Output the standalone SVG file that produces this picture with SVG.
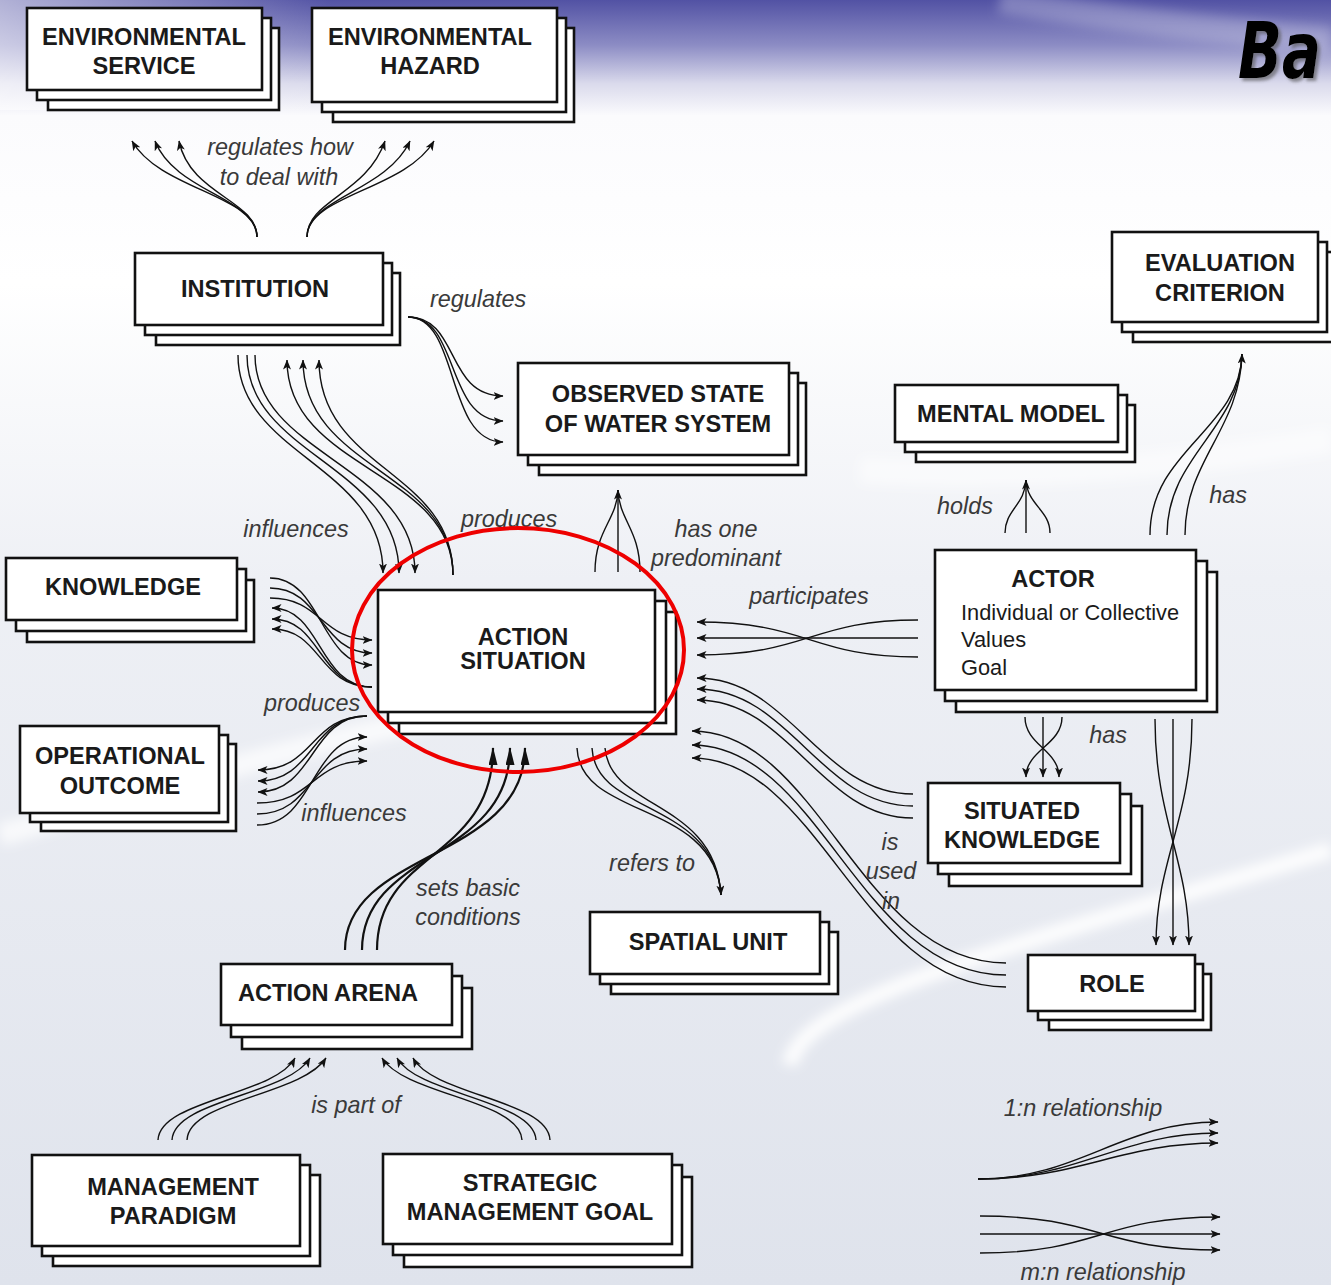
<svg xmlns="http://www.w3.org/2000/svg" width="1331" height="1285" viewBox="0 0 1331 1285">
  <defs>
    <linearGradient id="bg" x1="0" y1="0" x2="0" y2="1285" gradientUnits="userSpaceOnUse">
      <stop offset="0" stop-color="#5252a4"/>
      <stop offset="0.035" stop-color="#8c8cc4"/>
      <stop offset="0.065" stop-color="#dadaec"/>
      <stop offset="0.09" stop-color="#fbfbfd"/>
      <stop offset="0.22" stop-color="#ffffff"/>
      <stop offset="0.45" stop-color="#eef0f5"/>
      <stop offset="1" stop-color="#dfe3ec"/>
    </linearGradient>
    <linearGradient id="leftfade" x1="0" y1="0" x2="1" y2="0">
      <stop offset="0" stop-color="#ffffff" stop-opacity="0.55"/>
      <stop offset="0.25" stop-color="#ffffff" stop-opacity="0"/>
      <stop offset="1" stop-color="#ffffff" stop-opacity="0"/>
    </linearGradient>
    <filter id="soft" x="-10%" y="-10%" width="120%" height="120%">
      <feGaussianBlur stdDeviation="6"/>
    </filter>
    <filter id="shadow" x="-20%" y="-20%" width="140%" height="140%">
      <feDropShadow dx="3" dy="3" stdDeviation="1.5" flood-color="#555555" flood-opacity="0.6"/>
    </filter>
    <marker id="ah" viewBox="0 0 10 8" refX="9.5" refY="4" markerWidth="10" markerHeight="8" markerUnits="userSpaceOnUse" orient="auto">
      <path d="M0,0 L10,4 L0,8 L2.5,4 z" fill="#111"/>
    </marker>
    <marker id="ahb" viewBox="0 0 18 9" refX="17" refY="4.5" markerWidth="18" markerHeight="9" markerUnits="userSpaceOnUse" orient="auto">
      <path d="M0,0 L18,4.5 L0,9 z" fill="#111"/>
    </marker>
    <style>
      .box { fill: #ffffff; stroke: #111111; stroke-width: 2.6; }
      .t { font-family: "Liberation Sans", Arial, sans-serif; font-weight: bold; font-size: 23.6px; fill: #1a1a1a; text-anchor: middle; }
      .d { font-family: "Liberation Sans", Arial, sans-serif; font-size: 21.8px; fill: #1a1a1a; }
      .lbl { font-family: "Liberation Sans", Arial, sans-serif; font-style: italic; font-size: 23.4px; fill: #3a3a3a; text-anchor: middle; }
      .c { fill: none; stroke: #111111; stroke-width: 1.4; }
      .a { marker-end: url(#ah); }
      .cb { fill: none; stroke: #111111; stroke-width: 2.2; marker-end: url(#ahb); }
      .title { font-family: "DejaVu Sans", sans-serif; font-weight: bold; font-style: italic; font-size: 78px; }
    </style>
  </defs>

  <!-- background -->
  <rect x="0" y="0" width="1331" height="1285" fill="url(#bg)"/>
  <rect x="0" y="0" width="1331" height="110" fill="url(#leftfade)"/>
  <g filter="url(#soft)" fill="none" stroke="#ffffff">
    <path d="M1000,0 C1120,20 1220,30 1331,40" stroke-width="26" stroke-opacity="0.25"/>
    <path d="M0,835 C160,790 320,730 600,690" stroke-width="22" stroke-opacity="0.7"/>
    <path d="M790,1065 C800,1000 1000,950 1331,850" stroke-width="16" stroke-opacity="0.9"/>
    <path d="M860,470 C1000,480 1150,470 1331,440" stroke-width="26" stroke-opacity="0.5"/>
  </g>

  <!-- heading -->
  <g id="heading" filter="url(#shadow)">
    <text class="title" transform="translate(1238,78) scale(0.74,1)" x="0" y="0" fill="#000000">Ba</text>
  </g>

  <!-- connectors -->
  <g id="connectors">
    <!-- institution: regulates how to deal with -->
    <path class="c a" d="M257,237 C257,195 160,190 132,141"/>
    <path class="c a" d="M257,237 C257,198 175,192 155,141"/>
    <path class="c a" d="M257,237 C257,200 190,195 179,141"/>
    <path class="c a" d="M307,237 C307,200 366,195 385,141"/>
    <path class="c a" d="M307,237 C307,198 386,192 410,141"/>
    <path class="c a" d="M307,237 C307,195 405,190 434,141"/>

    <!-- institution: regulates -->
    <path class="c a" d="M408,317 C460,317 445,396 503,396"/>
    <path class="c a" d="M408,317 C460,317 445,421 503,421"/>
    <path class="c a" d="M408,317 C460,317 445,442 503,442"/>

    <!-- institution: influences -->
    <path class="c a" d="M238,355 C238,455 383,465 383,573"/>
    <path class="c a" d="M247,355 C247,455 399,465 399,573"/>
    <path class="c a" d="M255,355 C255,455 415,465 415,573"/>

    <!-- action situation: produces (institution) -->
    <path class="c a" d="M453,575 C453,470 287,470 287,360"/>
    <path class="c a" d="M453,575 C453,470 303,470 303,360"/>
    <path class="c a" d="M453,575 C453,470 319,470 319,360"/>

    <!-- has one predominant -->
    <path class="c" d="M595,572 C595,530 617,520 618,490"/>
    <path class="c a" d="M618,572 L618,490"/>
    <path class="c" d="M640,572 C640,530 619,520 618,490"/>

    <!-- knowledge -> action situation -->
    <path class="c a" d="M270,578 C322,578 320,665 372,665"/>
    <path class="c a" d="M270,588 C322,588 320,653 372,653"/>
    <path class="c a" d="M270,598 C322,598 320,640 372,640"/>
    <!-- action situation: produces knowledge -->
    <path class="c a" d="M372,687 C318,687 322,608 272,608"/>
    <path class="c a" d="M372,687 C318,687 322,619 272,619"/>
    <path class="c a" d="M372,687 C318,687 322,629 272,629"/>

    <!-- action situation: produces operational outcome -->
    <path class="c a" d="M367,716 C310,716 315,770 258,770"/>
    <path class="c a" d="M367,716 C310,716 315,781 258,781"/>
    <path class="c a" d="M367,716 C310,716 315,792 258,792"/>
    <!-- operational outcome: influences -->
    <path class="c a" d="M257,803 C315,803 310,761 367,761"/>
    <path class="c a" d="M257,814 C315,814 310,749 367,749"/>
    <path class="c a" d="M257,825 C315,825 310,737 367,737"/>

    <!-- action arena: sets basic conditions -->
    <path class="cb" d="M345,950 C345,850 525,860 525,748"/>
    <path class="cb" d="M362,950 C362,850 510,860 510,748"/>
    <path class="cb" d="M377,950 C377,850 493,860 493,748"/>

    <!-- refers to -->
    <path class="c" d="M577,748 C580,820 715,800 721,895"/>
    <path class="c" d="M592,748 C595,815 715,800 721,895"/>
    <path class="c a" d="M605,748 C610,810 715,800 721,895"/>

    <!-- participates -->
    <path class="c a" d="M918,620 C810,620 810,655 697,655"/>
    <path class="c a" d="M918,638 L697,638"/>
    <path class="c a" d="M918,657 C810,657 810,622 697,622"/>

    <!-- holds -->
    <path class="c" d="M1005,533 C1005,510 1025,505 1026,480"/>
    <path class="c a" d="M1026,533 L1026,480"/>
    <path class="c" d="M1050,533 C1050,510 1027,505 1026,480"/>

    <!-- actor has evaluation criterion -->
    <path class="c" d="M1150,535 C1150,450 1240,430 1242,354"/>
    <path class="c" d="M1167,535 C1167,455 1240,430 1242,354"/>
    <path class="c a" d="M1185,535 C1185,460 1240,430 1242,354"/>

    <!-- actor has situated knowledge -->
    <path class="c a" d="M1025,717 C1025,745 1059,750 1059,777"/>
    <path class="c a" d="M1043,717 L1043,777"/>
    <path class="c a" d="M1062,717 C1062,745 1026,750 1026,777"/>

    <!-- actor -> role -->
    <path class="c a" d="M1155,719 C1155,820 1189,860 1189,945"/>
    <path class="c a" d="M1173,719 L1173,945"/>
    <path class="c a" d="M1192,719 C1192,820 1156,860 1156,945"/>

    <!-- situated knowledge is used in action situation -->
    <path class="c a" d="M913,794 C820,794 790,678 697,678"/>
    <path class="c a" d="M913,806 C820,806 790,689 697,689"/>
    <path class="c a" d="M913,818 C820,818 790,700 697,700"/>

    <!-- role is used in action situation -->
    <path class="c a" d="M1006,963 C860,963 820,731 692,731"/>
    <path class="c a" d="M1006,975 C860,975 820,745 692,745"/>
    <path class="c a" d="M1006,987 C860,987 820,758 692,758"/>

    <!-- is part of -->
    <path class="c a" d="M158,1140 C160,1100 275,1095 295,1058"/>
    <path class="c a" d="M172,1140 C174,1100 288,1095 310,1058"/>
    <path class="c a" d="M187,1140 C189,1100 302,1095 326,1058"/>
    <path class="c a" d="M522,1140 C520,1100 405,1095 382,1058"/>
    <path class="c a" d="M536,1140 C534,1100 418,1095 397,1058"/>
    <path class="c a" d="M550,1140 C548,1100 433,1095 413,1058"/>

    <!-- legend -->
    <path class="c a" d="M978,1179 C1080,1179 1120,1122 1218,1122"/>
    <path class="c a" d="M978,1179 C1080,1179 1120,1133 1218,1133"/>
    <path class="c a" d="M978,1179 C1080,1179 1120,1143 1218,1143"/>
    <path class="c a" d="M980,1216 C1100,1216 1100,1250 1220,1250"/>
    <path class="c a" d="M980,1234 L1220,1234"/>
    <path class="c a" d="M980,1253 C1100,1253 1100,1217 1220,1217"/>
  </g>

  <!-- connector labels -->
  <g id="labels">
    <text class="lbl" x="280" y="155">regulates how</text>
    <text class="lbl" x="279" y="185">to deal with</text>
    <text class="lbl" x="478" y="307">regulates</text>
    <text class="lbl" x="296" y="537">influences</text>
    <text class="lbl" x="509" y="527">produces</text>
    <text class="lbl" x="716" y="537">has one</text>
    <text class="lbl" x="716" y="566">predominant</text>
    <text class="lbl" x="809" y="604">participates</text>
    <text class="lbl" x="965" y="514">holds</text>
    <text class="lbl" x="1228" y="503">has</text>
    <text class="lbl" x="1108" y="743">has</text>
    <text class="lbl" x="312" y="711">produces</text>
    <text class="lbl" x="354" y="821">influences</text>
    <text class="lbl" x="468" y="896">sets basic</text>
    <text class="lbl" x="468" y="925">conditions</text>
    <text class="lbl" x="652" y="871">refers to</text>
    <text class="lbl" x="890" y="850">is</text>
    <text class="lbl" x="891" y="879">used</text>
    <text class="lbl" x="891" y="909">in</text>
    <text class="lbl" x="356" y="1113">is part of</text>
    <text class="lbl" x="1083" y="1116">1:n relationship</text>
    <text class="lbl" x="1103" y="1280">m:n relationship</text>
  </g>

  <!-- nodes: stacked cards -->
  <g id="environmental-service">
    <rect class="box" x="48" y="28" width="231" height="82"/>
    <rect class="box" x="37" y="18" width="234" height="82"/>
    <rect class="box" x="27" y="8" width="235" height="82"/>
    <text class="t" x="144" y="45">ENVIRONMENTAL</text>
    <text class="t" x="144" y="74">SERVICE</text>
  </g>
  <g id="environmental-hazard">
    <rect class="box" x="333" y="28" width="241" height="94"/>
    <rect class="box" x="322" y="18" width="244" height="94"/>
    <rect class="box" x="312" y="8" width="245" height="94"/>
    <text class="t" x="430" y="45">ENVIRONMENTAL</text>
    <text class="t" x="430" y="74">HAZARD</text>
  </g>
  <g id="institution">
    <rect class="box" x="156" y="273" width="244" height="72"/>
    <rect class="box" x="145" y="263" width="247" height="72"/>
    <rect class="box" x="135" y="253" width="248" height="72"/>
    <text class="t" x="255" y="297">INSTITUTION</text>
  </g>
  <g id="evaluation-criterion">
    <rect class="box" x="1133" y="252" width="202" height="90"/>
    <rect class="box" x="1122" y="242" width="205" height="90"/>
    <rect class="box" x="1112" y="232" width="206" height="90"/>
    <text class="t" x="1220" y="271">EVALUATION</text>
    <text class="t" x="1220" y="301">CRITERION</text>
  </g>
  <g id="observed-state">
    <rect class="box" x="539" y="383" width="267" height="92"/>
    <rect class="box" x="528" y="373" width="270" height="92"/>
    <rect class="box" x="518" y="363" width="271" height="92"/>
    <text class="t" x="658" y="402">OBSERVED STATE</text>
    <text class="t" x="658" y="432">OF WATER SYSTEM</text>
  </g>
  <g id="mental-model">
    <rect class="box" x="916" y="405" width="219" height="57"/>
    <rect class="box" x="905" y="395" width="222" height="57"/>
    <rect class="box" x="895" y="385" width="223" height="57"/>
    <text class="t" x="1011" y="422">MENTAL MODEL</text>
  </g>
  <g id="knowledge">
    <rect class="box" x="27" y="580" width="227" height="62"/>
    <rect class="box" x="16" y="569" width="230" height="62"/>
    <rect class="box" x="6" y="558" width="231" height="62"/>
    <text class="t" x="123" y="595">KNOWLEDGE</text>
  </g>
  <g id="action-situation">
    <rect class="box" x="399" y="612" width="277" height="122"/>
    <rect class="box" x="388" y="601" width="278" height="122"/>
    <rect class="box" x="378" y="590" width="277" height="122"/>
    <text class="t" x="523" y="645">ACTION</text>
    <text class="t" x="523" y="669">SITUATION</text>
  </g>
  <g id="actor">
    <rect class="box" x="956" y="572" width="261" height="140"/>
    <rect class="box" x="945" y="561" width="262" height="140"/>
    <rect class="box" x="935" y="550" width="261" height="140"/>
    <text class="t" x="1053" y="587">ACTOR</text>
    <text class="d" x="961" y="620">Individual or Collective</text>
    <text class="d" x="961" y="647">Values</text>
    <text class="d" x="961" y="675">Goal</text>
  </g>
  <g id="operational-outcome">
    <rect class="box" x="41" y="744" width="195" height="87"/>
    <rect class="box" x="30" y="735" width="198" height="87"/>
    <rect class="box" x="20" y="726" width="199" height="87"/>
    <text class="t" x="120" y="764">OPERATIONAL</text>
    <text class="t" x="120" y="794">OUTCOME</text>
  </g>
  <g id="situated-knowledge">
    <rect class="box" x="949" y="806" width="193" height="80"/>
    <rect class="box" x="938" y="794" width="193" height="80"/>
    <rect class="box" x="928" y="783" width="192" height="80"/>
    <text class="t" x="1022" y="819">SITUATED</text>
    <text class="t" x="1022" y="848">KNOWLEDGE</text>
  </g>
  <g id="spatial-unit">
    <rect class="box" x="611" y="932" width="227" height="62"/>
    <rect class="box" x="600" y="922" width="229" height="62"/>
    <rect class="box" x="590" y="912" width="230" height="62"/>
    <text class="t" x="708" y="950">SPATIAL UNIT</text>
  </g>
  <g id="role">
    <rect class="box" x="1049" y="974" width="162" height="56"/>
    <rect class="box" x="1038" y="964" width="165" height="56"/>
    <rect class="box" x="1028" y="955" width="167" height="56"/>
    <text class="t" x="1112" y="992">ROLE</text>
  </g>
  <g id="action-arena">
    <rect class="box" x="242" y="988" width="230" height="61"/>
    <rect class="box" x="231" y="976" width="231" height="61"/>
    <rect class="box" x="221" y="964" width="231" height="61"/>
    <text class="t" x="328" y="1001">ACTION ARENA</text>
  </g>
  <g id="management-paradigm">
    <rect class="box" x="53" y="1175" width="267" height="91"/>
    <rect class="box" x="42" y="1165" width="268" height="91"/>
    <rect class="box" x="32" y="1155" width="268" height="91"/>
    <text class="t" x="173" y="1195">MANAGEMENT</text>
    <text class="t" x="173" y="1224">PARADIGM</text>
  </g>
  <g id="strategic-management-goal">
    <rect class="box" x="404" y="1177" width="288" height="90"/>
    <rect class="box" x="393" y="1165" width="289" height="90"/>
    <rect class="box" x="383" y="1154" width="289" height="90"/>
    <text class="t" x="530" y="1191">STRATEGIC</text>
    <text class="t" x="530" y="1220">MANAGEMENT GOAL</text>
  </g>

  <!-- highlight ring round the action situation -->
  <ellipse id="highlight" cx="518" cy="650" rx="166" ry="122" fill="none" stroke="#ee0000" stroke-width="4"/>
</svg>
